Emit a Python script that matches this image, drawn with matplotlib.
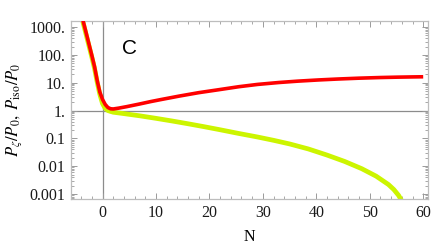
import matplotlib
matplotlib.use('Agg')
import matplotlib.pyplot as plt
from matplotlib.ticker import FixedLocator, FixedFormatter, LogLocator, NullFormatter, MultipleLocator

# 数据
N_red = [-4.0, -3.5, -3.0, -2.5, -2.0, -1.5, -1.0, -0.5, 0.0, 0.5, 1.0, 1.5, 2.0, 3.0,
         4.5, 6.8, 9, 11, 14.3, 18, 21.7, 25.5, 29, 33, 36.5, 40.4, 44, 48, 52, 55.3, 58, 60]
P_zeta = [3160, 1318, 550, 229, 95.5, 38, 12, 4.57, 2.51, 1.66, 1.29, 1.16, 1.14, 1.22,
          1.38, 1.7, 2.1, 2.5, 3.3, 4.4, 5.6, 7.2, 8.7, 10.2, 11.4, 12.6, 13.6, 14.6,
          15.4, 15.9, 16.2, 16.4]

N_iso = [-4.0, -3.5, -3.0, -2.5, -2.0, -1.5, -1.0, -0.5, 0.0, 0.5, 1.0, 1.5, 2.0, 4, 7,
         10, 13, 16, 19, 22, 25.5, 29, 32, 35, 38.5, 42, 45.3, 48.5, 51.2, 53.5, 54.5,
         55.4, 56.3, 57]
P_iso = [2754, 1148, 479, 200, 83, 33, 10.5, 3.8, 1.78, 1.2, 1.0, 0.93, 0.871, 0.776, 0.646,
         0.525, 0.422, 0.335, 0.263, 0.204, 0.150, 0.112, 0.0851, 0.0631, 0.0417, 0.0251,
         0.0148, 0.00813, 0.00437, 0.00219, 0.00145, 0.00089, 0.000447, 0.000251]

yticks = [1000, 100, 10, 1, 0.1, 0.01, 0.001]
ytick_labels = ['1000.', '100.', '10.', '1.', '0.1', '0.01', '0.001']
xticks = [0, 10, 20, 30, 40, 50, 60]

plt.rcParams['font.family'] = 'Liberation Serif'
plt.rcParams['mathtext.fontset'] = 'stix'

fig = plt.figure(figsize=(4.36, 2.47), dpi=100)
ax = fig.add_axes([71 / 436, 1 - 199 / 247, 357 / 436, 178 / 247])
ax.set_yscale('log')
ax.set_xlim(-5.9, 60.9)
ax.set_ylim(10 ** -3.18, 10 ** 3.22)

# 坐标轴线
ax.axvline(0, color='#8c8c8c', lw=0.9, zorder=1)
ax.axhline(1, color='#8c8c8c', lw=0.9, zorder=1)

# 曲线
ax.plot(N_iso, P_iso, color='#ccf500', lw=3.4, solid_capstyle='butt', zorder=2)
ax.plot(N_red, P_zeta, color='#ff0000', lw=2.6, solid_capstyle='butt', zorder=3)

# 刻度
ax.yaxis.set_major_locator(FixedLocator(yticks))
ax.yaxis.set_major_formatter(FixedFormatter(ytick_labels))
ax.yaxis.set_minor_locator(LogLocator(base=10, subs=range(2, 10), numticks=20))
ax.yaxis.set_minor_formatter(NullFormatter())
ax.xaxis.set_major_locator(FixedLocator(xticks))
ax.xaxis.set_minor_locator(MultipleLocator(2))

for sp in ax.spines.values():
    sp.set_color('#bdbdbd')
    sp.set_linewidth(0.9)
ax.tick_params(which='both', direction='in', top=True, right=True, color='#9a9a9a',
               labelsize=11.5, labelcolor='#1a1a1a')
ax.tick_params(which='major', length=4, width=0.7, pad=4)
ax.tick_params(which='minor', length=2.5, width=0.6)

ax.set_xlabel('N', fontsize=11.5, labelpad=6)
ax.set_ylabel(r'$P_\zeta/P_0,\;P_{\rm iso}/P_0$', fontsize=12, labelpad=4)

ax.text(129.5 / 436, 1 - 48 / 247, 'C', transform=fig.transFigure, fontsize=15,
        family='Liberation Sans', ha='center', va='center')

plt.savefig('out.png', dpi=100)
